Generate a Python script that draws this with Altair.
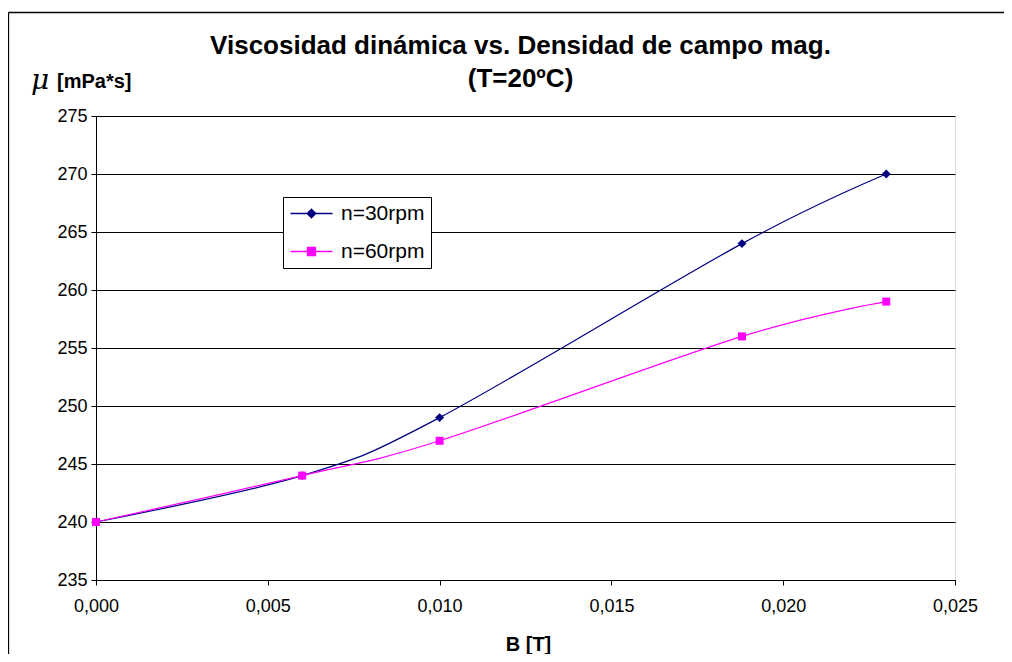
import altair as alt
import pandas as pd

# ---- data ----
series = ["n=30rpm", "n=60rpm"]
b_30 = [0.0, 0.006, 0.010, 0.0188, 0.023]
mu_30 = [240, 244, 249, 264, 270]
b_60 = [0.0, 0.006, 0.010, 0.0188, 0.023]
mu_60 = [240, 244, 247, 256, 259]
x_ticks = [0.0, 0.005, 0.010, 0.015, 0.020, 0.025]
y_ticks = [235, 240, 245, 250, 255, 260, 265, 270, 275]
title_lines = ["Viscosidad dinámica vs. Densidad de campo mag.", "(T=20ºC)"]
x_title = ["B [T]"]
y_symbol = ["μ"]
y_unit = ["[mPa*s]"]

colors = ["#000080", "#FF00FF"]
FONT = "Liberation Sans"

df = pd.DataFrame({
    "B": b_30 + b_60,
    "mu": mu_30 + mu_60,
    "serie": [series[0]] * len(b_30) + [series[1]] * len(b_60),
})

xs = alt.Scale(domain=[x_ticks[0], x_ticks[-1]], nice=False, zero=False)
ys = alt.Scale(domain=[y_ticks[0], y_ticks[-1]], nice=False, zero=False)

x_enc = alt.X("B:Q", scale=xs, axis=alt.Axis(
    values=x_ticks, grid=False, title=x_title[0],
    labelExpr="replace(format(datum.value, '.3f'), '.', ',')",
    labelFont=FONT, labelFontSize=18, labelColor="black", labelPadding=12,
    tickSize=5, tickColor="black", domainColor="black",
    titleFont=FONT, titleFontSize=20, titleFontWeight="bold", titleColor="black",
    titlePadding=19, titleX=432, labelFlush=False,
))
y_enc = alt.Y("mu:Q", scale=ys, axis=alt.Axis(
    values=y_ticks, grid=True, gridColor="black", gridWidth=1, title=None,
    labelFont=FONT, labelFontSize=18, labelColor="black", labelPadding=4,
    tickSize=5, tickColor="black", domainColor="black",
))

color_scale = alt.Scale(domain=series, range=colors)

base = alt.Chart(df)

lines = base.mark_line(interpolate="cardinal", strokeWidth=1.2).encode(
    x=x_enc, y=y_enc,
    color=alt.Color("serie:N", scale=color_scale, legend=None),
)

pts_30 = base.transform_filter(alt.datum.serie == series[0]).mark_point(
    filled=True, size=80, opacity=1, shape="diamond", color=colors[0]
).encode(x=x_enc, y=y_enc)
pts_60 = base.transform_filter(alt.datum.serie == series[1]).mark_point(
    filled=True, size=64, opacity=1, shape="square", color=colors[1]
).encode(x=x_enc, y=y_enc)

leg = alt.Legend(
    orient="none", legendX=187, legendY=81, title=None,
    symbolSize=324, symbolStrokeWidth=1.4, symbolOpacity=1,
    labelFont=FONT, labelFontSize=21, labelColor="black", labelOffset=31,
    padding=6, rowPadding=16, strokeColor="black", fillColor="white",
)
# legend glyphs: a line with the series marker in the middle (marker drawn as nested outlines)
legend_paths = [
    "M-1,0H3.67M0.86,0L1.33,-0.47L1.8,0L1.33,0.47ZM1.02,0L1.33,-0.31L1.64,0L1.33,0.31Z"
    "M1.18,0L1.33,-0.15L1.48,0L1.33,0.15ZM1.33,-0.47V0.47",
    "M-1,0H3.67M0.89,-0.44H1.77V0.44H0.89ZM1.05,-0.28H1.61V0.28H1.05Z"
    "M1.21,-0.12H1.45V0.12H1.21ZM1.33,-0.44V0.44",
]
legend_layer = base.transform_filter("false").mark_point(filled=False, opacity=1).encode(
    x=x_enc, y=y_enc,
    color=alt.Color("serie:N", scale=color_scale, legend=leg),
    shape=alt.Shape("serie:N", scale=alt.Scale(domain=series, range=legend_paths), legend=leg),
)

mu_text = alt.Chart(pd.DataFrame({"t": y_symbol})).mark_text(
    font="DejaVu Serif", fontStyle="italic", fontSize=28, align="center", baseline="middle", color="black"
).encode(text="t:N", x=alt.value(-56), y=alt.value(-35))

unit_text = alt.Chart(pd.DataFrame({"t": y_unit})).mark_text(
    font=FONT, fontWeight="bold", fontSize=20, align="left", baseline="middle", color="black"
).encode(text="t:N", x=alt.value(-39), y=alt.value(-34))

frame_df = pd.DataFrame({"f": [1]})
frame_top = alt.Chart(frame_df).mark_rule(stroke="black", strokeWidth=1.3).encode(
    x=alt.value(-87.5), x2=alt.value(1000), y=alt.value(-103.5))
frame_left = alt.Chart(frame_df).mark_rule(stroke="black", strokeWidth=1.3).encode(
    x=alt.value(-87.5), y=alt.value(-103.5), y2=alt.value(700))

chart = alt.layer(frame_top, frame_left, lines, pts_30, pts_60, legend_layer, mu_text, unit_text).resolve_scale(
    color="independent", shape="independent"
).resolve_legend(
    color="independent", shape="independent"
).properties(
    width=859, height=464,
    title=alt.TitleParams(
        text=title_lines, font=FONT, fontSize=26, fontWeight="bold", color="black",
        anchor="middle", frame="group", offset=-80, lineHeight=33, dx=-5,
    ),
    autosize=alt.AutoSizeParams(type="none"),
    padding={"left": 88, "top": 108, "right": 49, "bottom": 74},
).configure_view(stroke="#808080", strokeWidth=1).configure(background="white")

chart.save("out.html", embed_options={"renderer": "svg", "actions": False})
